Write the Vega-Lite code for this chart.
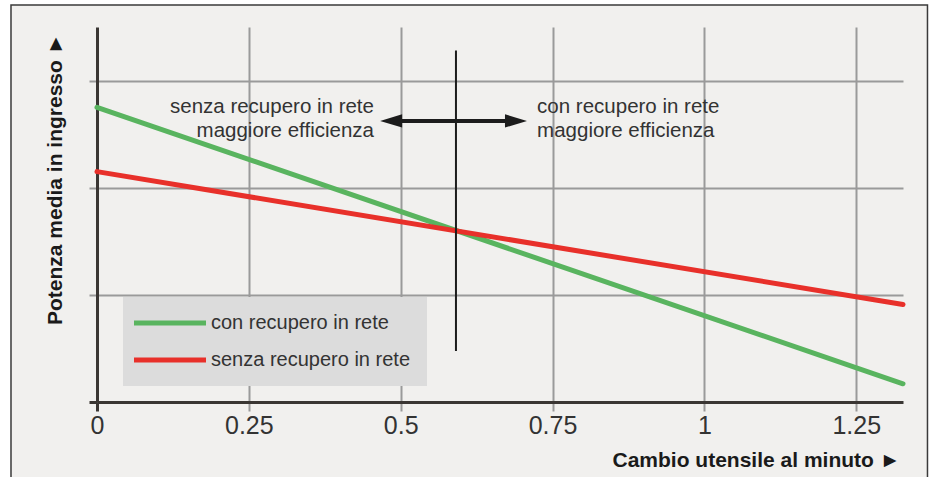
{
  "$schema": "https://vega.github.io/schema/vega-lite/v6.json",
  "width": 806,
  "height": 375,
  "autosize": {"type": "none"},
  "padding": {"left": 97, "top": 27, "right": 27, "bottom": 75},
  "background": "#f1f0ee",
  "config": {
    "view": {"stroke": null},
    "font": "Liberation Sans"
  },
  "datasets": {
    "serie": [
      {"cambio": 0, "potenza": 2.75, "serie": "con recupero in rete"},
      {"cambio": 1.327, "potenza": 0.17, "serie": "con recupero in rete"},
      {"cambio": 0, "potenza": 2.15, "serie": "senza recupero in rete"},
      {"cambio": 1.327, "potenza": 0.91, "serie": "senza recupero in rete"}
    ],
    "divisore": [
      {"cambio": 0.591, "potenza": 0.475, "potenza2": 3.28}
    ],
    "freccia": [
      {"cambio": 0.484, "cambio2": 0.69, "potenza": 2.623}
    ],
    "punte": [
      {"cambio": 0.4842, "potenza": 2.623, "verso": "sinistra"},
      {"cambio": 0.6898, "potenza": 2.623, "verso": "destra"}
    ],
    "note": [
      {"cambio": 0.456, "potenza": 2.753, "testo": "senza recupero in rete\nmaggiore efficienza", "lato": "sinistra"},
      {"cambio": 0.7246, "potenza": 2.753, "testo": "con recupero in rete\nmaggiore efficienza", "lato": "destra"}
    ]
  },
  "layer": [
    {
      "data": {"values": [{}]},
      "mark": {"type": "rect", "filled": false, "stroke": "#ffffff", "strokeWidth": 22, "clip": false},
      "encoding": {
        "x": {"datum": -0.1597, "type": "quantitative"},
        "x2": {"datum": 1.3846},
        "y": {"datum": 3.808, "type": "quantitative"},
        "y2": {"datum": -0.95}
      }
    },
    {
      "data": {"values": [{}]},
      "mark": {"type": "rect", "filled": false, "stroke": "#3a3a3a", "strokeWidth": 1.5, "clip": false},
      "encoding": {
        "x": {"datum": -0.1416, "type": "quantitative"},
        "x2": {"datum": 1.3673},
        "y": {"datum": 3.7054, "type": "quantitative"},
        "y2": {"datum": -0.95}
      }
    },
    {
      "data": {"name": "serie"},
      "mark": {"type": "line", "strokeWidth": 5, "strokeCap": "round"},
      "encoding": {
        "x": {
          "field": "cambio",
          "type": "quantitative",
          "scale": {"domain": [0, 1.327], "nice": false, "zero": false},
          "axis": {
            "title": "Cambio utensile al minuto  ►",
            "titleFont": "Liberation Sans",
            "titleFontSize": 21,
            "titleFontWeight": "bold",
            "titleColor": "#1a1a1a",
            "titleAnchor": "end",
            "titleAlign": "right",
            "titleX": 803,
            "titleY": 58,
            "titleBaseline": "middle",
            "values": [0, 0.25, 0.5, 0.75, 1, 1.25],
            "labelExpr": "'' + datum.value",
            "labelFont": "Liberation Sans",
            "labelFontSize": 25,
            "labelColor": "#333333",
            "labelFlush": false,
            "labelOverlap": false,
            "labelPadding": 2,
            "tickSize": 9,
            "tickColor": {"condition": {"test": "datum.value === 0", "value": "#3a3633"}, "value": "#9a9a9a"},
            "tickWidth": {"condition": {"test": "datum.value === 0", "value": 3}, "value": 2},
            "domainColor": "#3a3633",
            "domainWidth": 3,
            "grid": true,
            "gridColor": {"condition": {"test": "datum.value === 0", "value": "transparent"}, "value": "#9a9a9a"},
            "gridWidth": 2
          }
        },
        "y": {
          "field": "potenza",
          "type": "quantitative",
          "scale": {"domain": [0, 3.5], "nice": false, "zero": false},
          "axis": {
            "title": "Potenza media in ingresso  ►",
            "titleFont": "Liberation Sans",
            "titleFontSize": 21,
            "titleFontWeight": "bold",
            "titleColor": "#1a1a1a",
            "titleAngle": -90,
            "titleAnchor": "end",
            "titleAlign": "right",
            "titleBaseline": "middle",
            "titleX": -42,
            "titleY": 6,
            "values": [0, 1, 2, 3],
            "labels": false,
            "tickSize": 8,
            "tickColor": {"condition": {"test": "datum.value === 0", "value": "#3a3633"}, "value": "#9a9a9a"},
            "tickWidth": {"condition": {"test": "datum.value === 0", "value": 3}, "value": 2},
            "domainColor": "#3a3633",
            "domainWidth": 3,
            "grid": true,
            "gridColor": {"condition": {"test": "datum.value === 0", "value": "transparent"}, "value": "#9a9a9a"},
            "gridWidth": 2
          }
        },
        "color": {
          "field": "serie",
          "type": "nominal",
          "scale": {
            "domain": ["con recupero in rete", "senza recupero in rete"],
            "range": ["#59b45f", "#e8302a"]
          },
          "legend": {
            "title": null,
            "orient": "none",
            "legendX": 26,
            "legendY": 270,
            "fillColor": "#dcdcdc",
            "padding": 16,
            "symbolType": "M-36,0H36",
            "symbolSize": 4,
            "symbolStrokeWidth": 5,
            "symbolOffset": 21,
            "labelOffset": 31,
            "labelLimit": 400,
            "labelFont": "Liberation Sans",
            "labelFontSize": 20,
            "labelColor": "#333333",
            "rowPadding": 17
          }
        }
      }
    },
    {
      "data": {"name": "divisore"},
      "mark": {"type": "rule", "color": "#1c1c1c", "strokeWidth": 2},
      "encoding": {
        "x": {"field": "cambio", "type": "quantitative"},
        "y": {"field": "potenza", "type": "quantitative"},
        "y2": {"field": "potenza2"}
      }
    },
    {
      "data": {"name": "freccia"},
      "mark": {"type": "rule", "color": "#1c1c1c", "strokeWidth": 4},
      "encoding": {
        "x": {"field": "cambio", "type": "quantitative"},
        "x2": {"field": "cambio2"},
        "y": {"field": "potenza", "type": "quantitative"}
      }
    },
    {
      "data": {"name": "punte"},
      "mark": {"type": "point", "filled": true, "color": "#1c1c1c", "opacity": 1, "size": 484},
      "encoding": {
        "x": {"field": "cambio", "type": "quantitative"},
        "y": {"field": "potenza", "type": "quantitative"},
        "shape": {
          "field": "verso",
          "type": "nominal",
          "scale": {"domain": ["sinistra", "destra"], "range": ["M-1,0L1,-0.6L1,0.6Z", "M1,0L-1,-0.6L-1,0.6Z"]},
          "legend": null
        }
      }
    },
    {
      "data": {"name": "note"},
      "transform": [{"filter": "datum.lato === 'sinistra'"}],
      "mark": {"type": "text", "align": "right", "baseline": "middle", "lineBreak": "\n", "fontSize": 20.5, "lineHeight": 24, "font": "Liberation Sans", "color": "#333333"},
      "encoding": {
        "x": {"field": "cambio", "type": "quantitative"},
        "y": {"field": "potenza", "type": "quantitative"},
        "text": {"field": "testo"}
      }
    },
    {
      "data": {"name": "note"},
      "transform": [{"filter": "datum.lato === 'destra'"}],
      "mark": {"type": "text", "align": "left", "baseline": "middle", "lineBreak": "\n", "fontSize": 20.5, "lineHeight": 24, "font": "Liberation Sans", "color": "#333333"},
      "encoding": {
        "x": {"field": "cambio", "type": "quantitative"},
        "y": {"field": "potenza", "type": "quantitative"},
        "text": {"field": "testo"}
      }
    }
  ]
}
